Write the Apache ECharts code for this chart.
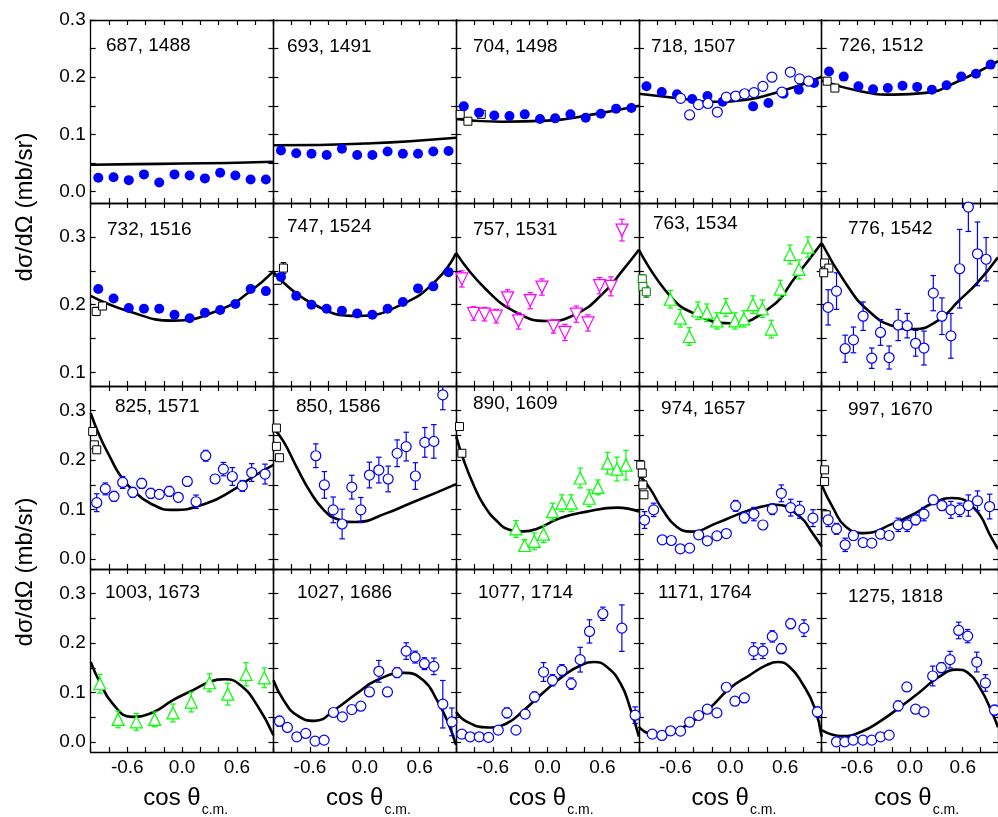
<!DOCTYPE html>
<html><head><meta charset="utf-8">
<script src="https://cdn.jsdelivr.net/npm/echarts@6/dist/echarts.min.js"></script>
<style>html,body{margin:0;padding:0;background:#fff}#c{width:998px;height:817px}</style>
</head><body><div id="c"></div><script>
// ---------- DATA ----------
const titles = ['687, 1488','693, 1491','704, 1498','718, 1507','726, 1512',
  '732, 1516','747, 1524','757, 1531','763, 1534','776, 1542',
  '825, 1571','850, 1586','890, 1609','974, 1657','997, 1670',
  '1003, 1673','1027, 1686','1077, 1714','1171, 1764','1275, 1818'];
const xTickValues = [-1,-0.8,-0.6,-0.4,-0.2,0,0.2,0.4,0.6,0.8,1];
const xTickLabels = [-0.6, 0.0, 0.6];
const yTickValuesRow = [
  [0,0.05,0.1,0.15,0.2,0.25,0.3],
  [0.1,0.15,0.2,0.25,0.3,0.35],
  [0,0.05,0.1,0.15,0.2,0.25,0.3,0.35],
  [0,0.05,0.1,0.15,0.2,0.25,0.3,0.35]];
const yTickLabelsRow = [[0,0.1,0.2,0.3],[0.1,0.2,0.3],[0,0.1,0.2,0.3],[0,0.1,0.2,0.3]];
const yMinRow = [-0.02, 0.08, -0.02, -0.02];
const yMaxRow = [0.3, 0.35, 0.35, 0.35];
const xAxisTitle = 'cos θ';
const xAxisSub = 'c.m.';
const yAxisTitle = 'dσ/dΩ (mb/sr)';

const binX = [-0.917,-0.75,-0.583,-0.417,-0.25,-0.083,0.083,0.25,0.417,0.583,0.75,0.917];
const filled01 = [0.024,0.025,0.020,0.030,0.016,0.030,0.028,0.023,0.033,0.028,0.021,0.021];
const filled02 = [0.072,0.067,0.066,0.064,0.075,0.064,0.064,0.070,0.066,0.066,0.070,0.071];
const filled03 = [0.149,0.138,0.133,0.132,0.135,0.127,0.128,0.135,0.129,0.136,0.145,0.146];
const filled05 = [0.210,0.201,0.184,0.179,0.181,0.185,0.183,0.178,0.186,0.201,0.206,0.222];
const filled06 = [0.223,0.209,0.195,0.194,0.194,0.185,0.180,0.188,0.192,0.201,0.223,0.220];
const filled07 = [0.241,0.213,0.200,0.194,0.191,0.187,0.185,0.194,0.204,0.224,0.227,0.248];
const filled04 = [[-0.917,0.184],[-0.75,0.174],[-0.583,0.170],[-0.417,0.162],[-0.25,0.167],[-0.083,0.157],[0.25,0.149],[0.417,0.155],[0.583,0.171],[0.75,0.178],[0.917,0.190]];
const open04 = [[-0.543,0.163,0.004],[-0.445,0.134,0.006],[-0.347,0.152,0.006],[-0.245,0.154,0.004],[-0.142,0.139,0.004],[-0.043,0.165,0.004],[0.059,0.167,0.004],[0.157,0.171,0.004],[0.259,0.173,0.004],[0.357,0.184,0.004],[0.456,0.200,0.004],[0.565,0.174,0.004],[0.657,0.209,0.004],[0.759,0.197,0.005],[0.858,0.193,0.004]];
const tri08 = [[-0.938,0.238,0.012],[-0.81,0.187,0.01],[-0.69,0.186,0.01],[-0.562,0.183,0.01],[-0.438,0.210,0.012],[-0.318,0.176,0.012],[-0.19,0.206,0.012],[-0.062,0.226,0.012],[0.065,0.168,0.01],[0.19,0.159,0.012],[0.314,0.186,0.012],[0.442,0.173,0.012],[0.569,0.228,0.012],[0.693,0.227,0.014],[0.814,0.310,0.016]];
const tri09 = [[-0.656,0.208,0.013],[-0.547,0.180,0.013],[-0.448,0.153,0.013],[-0.354,0.191,0.013],[-0.256,0.188,0.013],[-0.146,0.176,0.012],[-0.048,0.196,0.013],[0.051,0.176,0.012],[0.149,0.179,0.012],[0.248,0.200,0.013],[0.351,0.194,0.013],[0.449,0.164,0.013],[0.548,0.223,0.013],[0.653,0.274,0.014],[0.752,0.252,0.014],[0.85,0.285,0.015]];
const open10 = [[-0.927,0.196,0.026],[-0.832,0.220,0.027],[-0.734,0.135,0.020],[-0.64,0.148,0.019],[-0.53,0.183,0.021],[-0.432,0.121,0.015],[-0.333,0.159,0.019],[-0.235,0.122,0.017],[-0.132,0.170,0.023],[-0.03,0.169,0.018],[0.065,0.143,0.019],[0.16,0.136,0.025],[0.266,0.217,0.026],[0.364,0.183,0.027],[0.466,0.154,0.033],[0.565,0.253,0.058],[0.664,0.344,0.036],[0.767,0.275,0.047],[0.865,0.267,0.032]];
const open11 = [[-0.934,0.114,0.018],[-0.84,0.142,0.012],[-0.745,0.127,0.010],[-0.65,0.155,0.012],[-0.54,0.135,0.010],[-0.442,0.153,0.010],[-0.343,0.133,0.010],[-0.249,0.131,0.007],[-0.14,0.137,0.010],[-0.041,0.125,0.009],[0.057,0.157,0.009],[0.153,0.116,0.0135],[0.259,0.209,0.011],[0.361,0.162,0.009],[0.452,0.182,0.0135],[0.55,0.167,0.018],[0.66,0.148,0.011],[0.762,0.175,0.018],[0.908,0.172,0.020]];
const open12 = [[-0.536,0.209,0.024],[-0.442,0.150,0.027],[-0.346,0.0996,0.026],[-0.248,0.071,0.030],[-0.142,0.1455,0.024],[-0.043,0.0996,0.025],[0.051,0.170,0.026],[0.154,0.180,0.026],[0.256,0.162,0.026],[0.354,0.214,0.027],[0.453,0.2275,0.029],[0.554,0.168,0.027],[0.657,0.236,0.030],[0.756,0.238,0.034],[0.854,0.332,0.030]];
const tri13 = [[-0.346,0.061,0.017],[-0.252,0.0275,0.012],[-0.146,0.036,0.017],[-0.044,0.0505,0.017],[0.054,0.096,0.017],[0.157,0.113,0.017],[0.259,0.113,0.017],[0.357,0.164,0.020],[0.456,0.123,0.017],[0.551,0.145,0.015],[0.657,0.194,0.022],[0.759,0.182,0.024],[0.858,0.19,0.030]];
const open14 = [[-0.938,0.079,0.017],[-0.839,0.0996,0.0135],[-0.744,0.039,0.004],[-0.645,0.0376,0.004],[-0.547,0.0208,0.004],[-0.445,0.0222,0.004],[-0.346,0.049,0.004],[-0.251,0.037,0.007],[-0.146,0.047,0.004],[-0.043,0.0517,0.004],[0.059,0.1077,0.011],[0.154,0.084,0.011],[0.259,0.091,0.0135],[0.357,0.069,0.004],[0.46,0.101,0.011],[0.559,0.133,0.017],[0.661,0.104,0.017],[0.759,0.0996,0.017],[0.905,0.0828,0.017]];
const open15 = [[-0.927,0.0794,0.0135],[-0.832,0.0612,0.011],[-0.734,0.0289,0.0135],[-0.64,0.0477,0.009],[-0.53,0.0335,0.005],[-0.432,0.0323,0.005],[-0.333,0.0505,0.009],[-0.235,0.0477,0.005],[-0.132,0.0693,0.0135],[-0.03,0.0693,0.0135],[0.065,0.0794,0.010],[0.16,0.0909,0.0135],[0.266,0.1198,0.009],[0.364,0.1083,0.010],[0.466,0.0996,0.017],[0.565,0.0996,0.0135],[0.664,0.1083,0.0215],[0.767,0.1178,0.020],[0.905,0.1063,0.025]];
const tri16 = [[-0.9,0.118,0.019],[-0.7,0.046,0.017],[-0.5,0.041,0.017],[-0.3,0.046,0.015],[-0.1,0.059,0.018],[0.1,0.081,0.020],[0.3,0.120,0.018],[0.5,0.097,0.022],[0.7,0.137,0.0235],[0.9,0.130,0.020]];
const open17 = [[-0.934,0.0423,0.010],[-0.847,0.0296,0.004],[-0.744,0.0107,0.004],[-0.646,0.0175,0.0034],[-0.544,0.002,0.0034],[-0.445,0.004,0.004],[-0.343,0.0599,0.0067],[-0.245,0.051,0.004],[-0.142,0.0659,0.004],[-0.043,0.0726,0.004],[0.051,0.1014,0.004],[0.154,0.1431,0.022],[0.248,0.1014,0.004],[0.354,0.1405,0.010],[0.453,0.184,0.0168],[0.551,0.1719,0.012],[0.653,0.1586,0.012],[0.756,0.1532,0.0168],[0.854,0.0766,0.048],[0.953,0.0409,0.028]];
const open18 = [[-0.938,0.0161,0.004],[-0.847,0.0107,0.004],[-0.748,0.0107,0.004],[-0.646,0.0095,0.004],[-0.54,0.0242,0.004],[-0.445,0.0591,0.010],[-0.346,0.0242,0.004],[-0.245,0.0565,0.008],[-0.143,0.0913,0.010],[-0.044,0.1417,0.019],[0.054,0.125,0.0114],[0.157,0.1452,0.0114],[0.259,0.1183,0.0114],[0.357,0.1667,0.025],[0.459,0.2238,0.0235],[0.605,0.2595,0.0134],[0.813,0.2304,0.047],[0.958,0.0544,0.0168]];
const open19 = [[-0.854,0.0161,0.004],[-0.748,0.0135,0.004],[-0.653,0.0228,0.004],[-0.544,0.0222,0.004],[-0.445,0.0403,0.004],[-0.346,0.0538,0.004],[-0.251,0.0665,0.004],[-0.146,0.0591,0.004],[-0.043,0.1109,0.0067],[0.051,0.0827,0.004],[0.154,0.0893,0.004],[0.256,0.184,0.0168],[0.357,0.184,0.015],[0.46,0.2137,0.0114],[0.559,0.1889,0.010],[0.661,0.2393,0.010],[0.806,0.2304,0.0168],[0.953,0.0611,0.010]];
const open20 = [[-0.832,0.0006,0.004],[-0.738,0.0006,0.004],[-0.643,0.004,0.004],[-0.533,0.004,0.004],[-0.432,0.004,0.004],[-0.333,0.0107,0.004],[-0.235,0.0141,0.004],[-0.132,0.0732,0.010],[-0.034,0.1115,0.008],[0.065,0.0665,0.0067],[0.16,0.0611,0.004],[0.259,0.1337,0.020],[0.357,0.1505,0.010],[0.456,0.1667,0.0168],[0.554,0.2258,0.0168],[0.656,0.2143,0.0134],[0.759,0.1619,0.020],[0.857,0.1196,0.0168],[0.96,0.0645,0.010]];

const sq03 = [[-0.956,0.135,0.004],[-0.872,0.123,0.004],[-0.726,0.135,0.004]];
const sq05 = [[-0.938,0.193,0.004],[-0.851,0.181,0.003]];
const sq06 = [[-0.94,0.190,0.006],[-0.87,0.198,0.004]];
const sq07 = [[-0.956,0.236,0.006],[-0.89,0.254,0.008]];
const sq09 = [[-0.963,0.238,0.006],[-0.956,0.227,0.006],[-0.919,0.219,0.008]];
const sq10 = [[-0.967,0.2615,0.004],[-0.919,0.254,0.004],[-0.977,0.247,0.004]];
const sq11 = [[-0.978,0.258,0.004],[-0.96,0.231,0.006],[-0.934,0.221,0.006]];
const sq12 = [[-0.967,0.265,0.004],[-0.967,0.228,0.004],[-0.934,0.205,0.004]];
const sq13 = [[-0.964,0.268,0.004],[-0.938,0.214,0.004]];
const sq14 = [[-0.98,0.19,0.006],[-0.963,0.174,0.008],[-0.956,0.150,0.006],[-0.945,0.13,0.006]];
const sq15 = [[-0.967,0.1804,0.006],[-0.967,0.157,0.006],[-0.949,0.0895,0.008]];

const curve01 = [[-1,0.047],[-0.5,0.048],[0,0.049],[0.5,0.050],[1,0.052]];
const curve02 = [[-1,0.081],[-0.5,0.0815],[0,0.084],[0.5,0.088],[1,0.094]];
const curve03 = [[-1,0.127],[-0.5,0.122],[0,0.124],[0.5,0.135],[1,0.150]];
const curve04 = [[-1,0.171],[-0.5,0.162],[-0.2,0.157],[0.2,0.161],[0.5,0.173],[0.8,0.188],[1,0.201]];
const curve05 = [[-1,0.194],[-0.55,0.175],[-0.185,0.1695],[0.18,0.1725],[0.55,0.193],[1,0.228]];
const curve06 = [[-1,0.213],[-0.58,0.190],[-0.1,0.1765],[0.42,0.193],[0.74,0.219],[1,0.249]];
const curve07 = [[-1,0.248],[-0.58,0.202],[-0.07,0.1834],[0.43,0.202],[0.79,0.237],[1,0.276]];
const curve08 = [[-1,0.276],[-0.67,0.222],[-0.32,0.187],[-0.01,0.176],[0.31,0.186],[0.61,0.217],[0.83,0.252],[1,0.281]];
const curve09 = [[-1,0.281],[-0.66,0.213],[-0.38,0.186],[0,0.1726],[0.43,0.195],[0.72,0.242],[1,0.291]];
const curve10 = [[-1,0.291],[-0.73,0.232],[-0.47,0.191],[-0.18,0.168],[0.04,0.164],[0.33,0.1775],[0.55,0.205],[0.77,0.233],[1,0.27]];
const curve11 = [[-1,0.295],[-0.9,0.248],[-0.79,0.207],[-0.68,0.170],[-0.54,0.140],[-0.35,0.113],[-0.1,0.0996],[0.27,0.113],[0.56,0.140],[0.78,0.167],[1,0.1905]];
const curve12 = [[-1,0.265],[-0.89,0.238],[-0.74,0.184],[-0.6,0.137],[-0.45,0.0996],[-0.31,0.0814],[-0.1,0.075],[0.24,0.093],[0.5,0.113],[0.79,0.135],[1,0.1515]];
const curve13 = [[-1,0.248],[-0.92,0.201],[-0.81,0.150],[-0.7,0.110],[-0.55,0.076],[-0.41,0.059],[-0.26,0.056],[-0.12,0.061],[0.14,0.083],[0.43,0.096],[0.76,0.104],[1,0.096]];
const curve14 = [[-1,0.170],[-0.88,0.143],[-0.74,0.0996],[-0.59,0.066],[-0.42,0.0555],[-0.15,0.0727],[0.07,0.0895],[0.28,0.103],[0.5,0.110],[0.76,0.086],[0.9,0.0525],[1,0.0255]];
const curve15 = [[-1,0.150],[-0.87,0.103],[-0.73,0.066],[-0.52,0.0525],[-0.18,0.0727],[0.04,0.0909],[0.26,0.113],[0.48,0.1235],[0.73,0.103],[0.93,0.042],[1,0.02]];
const curve16 = [[-1,0.162],[-0.91,0.125],[-0.76,0.078],[-0.55,0.051],[-0.31,0.061],[-0.1,0.085],[0.12,0.105],[0.31,0.122],[0.47,0.127],[0.64,0.115],[0.82,0.075],[1,0.014]];
const curve17 = [[-1,0.125],[-0.89,0.085],[-0.74,0.054],[-0.55,0.043],[-0.31,0.068],[-0.09,0.098],[0.13,0.125],[0.43,0.140],[0.64,0.125],[0.79,0.085],[0.9,0.044],[1,-0.006]];
const curve18 = [[-1,0.061],[-0.88,0.041],[-0.65,0.0296],[-0.45,0.0376],[-0.26,0.0645],[-0.04,0.1014],[0.18,0.135],[0.36,0.155],[0.51,0.162],[0.65,0.152],[0.8,0.118],[0.9,0.071],[1,0.011]];
const curve19 = [[-1,0.031],[-0.88,0.0175],[-0.72,0.016],[-0.45,0.0376],[-0.23,0.068],[-0.01,0.108],[0.21,0.135],[0.39,0.155],[0.52,0.162],[0.65,0.152],[0.79,0.118],[0.92,0.071],[1,0.011]];
const curve20 = [[-1,0.024],[-0.77,0.012],[-0.55,0.021],[-0.33,0.043],[-0.11,0.071],[0.11,0.101],[0.33,0.132],[0.53,0.1465],[0.66,0.140],[0.8,0.108],[0.93,0.061],[1,0.03]];

// ---------- LAYOUT / STYLE ----------
const FONT = "Arial, 'Liberation Sans', sans-serif";
const colLeft = [90.7, 273.4, 456.2, 638.9, 821.7];
const rowTop = [20, 203, 386, 569];
const PW = 182.75, PH = 183;
const titlePos = [[106,46],[287,47],[473,47],[651,47],[839,46],
  [107,230],[287,227],[473,230],[653,224],[848,229],
  [115,407],[296,407],[473,404],[661,409],[848,410],
  [105,593],[297,593],[478,593],[658,593],[848,597]];
const STY = {
  filled:{symbol:'circle', size:10, color:'#0000ff', fill:'#0000ff', bw:0},
  open:{symbol:'circle', size:10, color:'#0000ff', fill:'#ffffff', bw:1.2},
  tri:{symbol:'triangle', size:12, color:'#00ff00', fill:'#ffffff', bw:1.2},
  itri:{symbol:'triangle', size:12, rotate:180, color:'#ff00ff', fill:'#ffffff', bw:1.2},
  sq:{symbol:'rect', size:8, color:'#000000', fill:'#ffffff', bw:1},
  sqg:{symbol:'rect', size:8, color:'#008000', fill:'#ffffff', bw:1}
};
const bin = ys => binX.map((x,i)=>[x, ys[i]]);
const panels = [
  {curve:curve01, sets:[{d:bin(filled01), s:'filled'}]},
  {curve:curve02, sets:[{d:bin(filled02), s:'filled'}]},
  {curve:curve03, sets:[{d:sq03, s:'sq'},{d:bin(filled03), s:'filled'}]},
  {curve:curve04, sets:[{d:filled04, s:'filled'},{d:open04, s:'open'}]},
  {curve:curve05, sets:[{d:sq05, s:'sq'},{d:bin(filled05), s:'filled'}]},
  {curve:curve06, sets:[{d:sq06, s:'sq'},{d:bin(filled06), s:'filled'}]},
  {curve:curve07, sets:[{d:sq07, s:'sq'},{d:bin(filled07), s:'filled'}]},
  {curve:curve08, sets:[{d:tri08, s:'itri'}]},
  {curve:curve09, sets:[{d:sq09, s:'sqg'},{d:tri09, s:'tri'}]},
  {curve:curve10, sets:[{d:sq10, s:'sq'},{d:open10, s:'open'}]},
  {curve:curve11, sets:[{d:sq11, s:'sq'},{d:open11, s:'open'}]},
  {curve:curve12, sets:[{d:sq12, s:'sq'},{d:open12, s:'open'}]},
  {curve:curve13, sets:[{d:sq13, s:'sq'},{d:tri13, s:'tri'}]},
  {curve:curve14, sets:[{d:sq14, s:'sq'},{d:open14, s:'open'}]},
  {curve:curve15, sets:[{d:sq15, s:'sq'},{d:open15, s:'open'}]},
  {curve:curve16, sets:[{d:tri16, s:'tri'}]},
  {curve:curve17, sets:[{d:open17, s:'open'}]},
  {curve:curve18, sets:[{d:open18, s:'open'}]},
  {curve:curve19, sets:[{d:open19, s:'open'}]},
  {curve:curve20, sets:[{d:open20, s:'open'}]}
];

function errRender(color){
  return function(params, api){
    const x = api.value(0), y = api.value(1), e = api.value(2);
    const a = api.coord([x, y + e]), b = api.coord([x, y - e]);
    const cw = 2.8;
    const st = {stroke: color, lineWidth: 1.2, fill: null};
    return {type:'group', children:[
      {type:'line', shape:{x1:a[0], y1:a[1], x2:b[0], y2:b[1]}, style:st},
      {type:'line', shape:{x1:a[0]-cw, y1:a[1], x2:a[0]+cw, y2:a[1]}, style:st},
      {type:'line', shape:{x1:b[0]-cw, y1:b[1], x2:b[0]+cw, y2:b[1]}, style:st}
    ]};
  };
}

const grid=[], xAxis=[], yAxis=[], series=[], graphic=[];
panels.forEach((p, i) => {
  const r = Math.floor(i/5), c = i % 5;
  grid.push({left:colLeft[c], top:rowTop[r], width:PW, height:PH, show:false});
  const axLine = {show:true, onZero:false, lineStyle:{color:'#000', width:1.3}};
  const xt = {show:true, inside:true, length:5, customValues:xTickValues, lineStyle:{color:'#000', width:1.2}};
  const yt = {show:true, inside:true, length:5, customValues:yTickValuesRow[r], lineStyle:{color:'#000', width:1.2}};
  xAxis.push({gridIndex:i, type:'value', min:-1, max:1, position:'bottom', axisLine:axLine, axisTick:xt,
    splitLine:{show:false},
    axisLabel: r === 3 ? {show:true, customValues:xTickLabels, formatter:v => v.toFixed(1),
      fontSize:19, fontFamily:FONT, color:'#000', margin:6} : {show:false}});
  xAxis.push({gridIndex:i, type:'value', min:-1, max:1, position:'top', axisLine:axLine, axisTick:xt,
    splitLine:{show:false}, axisLabel:{show:false}});
  yAxis.push({gridIndex:i, type:'value', min:yMinRow[r], max:yMaxRow[r], position:'left', axisLine:axLine, axisTick:yt,
    splitLine:{show:false},
    axisLabel: c === 0 ? {show:true, customValues:yTickLabelsRow[r], formatter:v => v.toFixed(1),
      fontSize:19, fontFamily:FONT, color:'#000', margin:5} : {show:false}});
  yAxis.push({gridIndex:i, type:'value', min:yMinRow[r], max:yMaxRow[r], position:'right', axisLine:axLine, axisTick:yt,
    splitLine:{show:false}, axisLabel:{show:false}});
  const xi = 2*i, yi = 2*i;
  series.push({type:'line', xAxisIndex:xi, yAxisIndex:yi, data:p.curve, smooth:0.5,
    showSymbol:false, symbol:'none', lineStyle:{color:'#000', width:2.6}, z:3, silent:true});
  p.sets.forEach(set => {
    const st = STY[set.s];
    if (set.d[0].length > 2) {
      series.push({type:'custom', xAxisIndex:xi, yAxisIndex:yi, data:set.d, encode:{x:0, y:1},
        renderItem:errRender(st.color), z:4, clip:true, silent:true});
    }
    series.push({type:'scatter', xAxisIndex:xi, yAxisIndex:yi, data:set.d.map(d => [d[0], d[1]]),
      symbol:st.symbol, symbolSize:st.size, symbolRotate:st.rotate || 0,
      itemStyle:{color:st.fill, borderColor:st.color, borderWidth:st.bw, opacity:1}, z:5, silent:true});
  });
  graphic.push({type:'text', x:titlePos[i][0], y:titlePos[i][1], z:10,
    style:{text:titles[i], fontSize:19, fontFamily:FONT, fill:'#000', align:'left', verticalAlign:'middle'}});
});
// axis titles
colLeft.forEach(L => {
  graphic.push({type:'text', x:L + 110, y:798, z:10,
    style:{text:xAxisTitle, fontSize:24, fontFamily:FONT, fill:'#000', align:'right', verticalAlign:'middle'}});
  graphic.push({type:'text', x:L + 111, y:810, z:10,
    style:{text:xAxisSub, fontSize:14, fontFamily:FONT, fill:'#000', align:'left', verticalAlign:'middle'}});
});
[207, 572].forEach(yc => {
  graphic.push({type:'text', x:25, y:yc, rotation:Math.PI/2, z:10,
    style:{text:yAxisTitle, fontSize:24, fontFamily:FONT, fill:'#000', align:'center', verticalAlign:'middle'}});
});

const chart = echarts.init(document.getElementById('c'), null, {renderer:'canvas'});
chart.setOption({animation:false, backgroundColor:'#fff', grid, xAxis, yAxis, series, graphic});
</script></body></html>
